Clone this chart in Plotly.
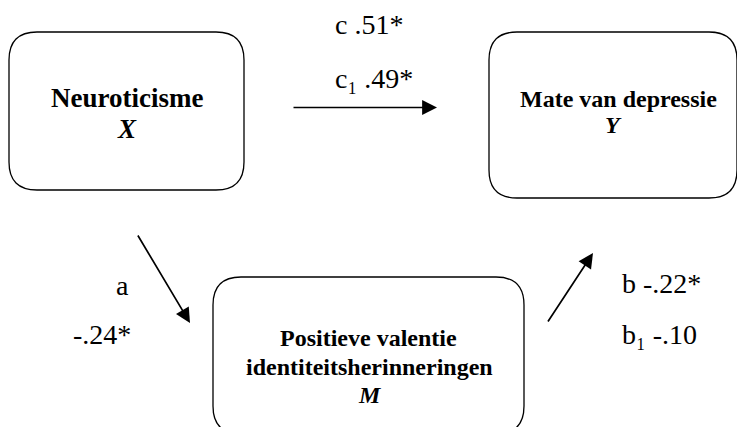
import plotly.graph_objects as go

# ---- content (data) ----
node_names = ["Neuroticisme", "Mate van depressie", "Positieve valentie<br>identiteitsherinneringen"]
node_symbols = ["X", "Y", "M"]
path_c = ["c .51*", "c₁ .49*"]
path_a = ["a", "-.24*"]
path_b = ["b -.22*", "b₁ -.10"]

# ---- layout geometry (pixel-like coordinates, y downwards) ----
W, H = 737, 427
boxes = [  # x0, y0, x1, y1, radius
    (9, 32, 244, 190, 28),
    (489, 32, 737, 198, 28),
    (213, 277, 524, 434, 28),
]

def rounded_path(x0, y0, x1, y1, r):
    return (f"M{x0+r},{y0} L{x1-r},{y0} Q{x1},{y0} {x1},{y0+r} "
            f"L{x1},{y1-r} Q{x1},{y1} {x1-r},{y1} "
            f"L{x0+r},{y1} Q{x0},{y1} {x0},{y1-r} "
            f"L{x0},{y0+r} Q{x0},{y0} {x0+r},{y0} Z")

fig = go.Figure()
fig.add_trace(go.Scatter(x=[0, W], y=[0, H], mode="markers",
                         marker=dict(opacity=0), hoverinfo="skip", showlegend=False))

for (x0, y0, x1, y1, r) in boxes:
    fig.add_shape(type="path", path=rounded_path(x0, y0, x1, y1, r),
                  xref="x", yref="y", line=dict(color="black", width=1.3),
                  fillcolor="rgba(0,0,0,0)")

SERIF = "Liberation Serif"
ann = []

def txt(x, y, s, size, xanchor="center", bold=False, italic=False):
    t = s
    if italic:
        t = f"<i>{t}</i>"
    if bold:
        t = f"<b>{t}</b>"
    ann.append(dict(x=x, y=y, xref="x", yref="y", text=t, showarrow=False,
                    xanchor=xanchor, yanchor="middle",
                    font=dict(family=SERIF, size=size, color="black")))

# node labels
txt(127, 98, node_names[0], 27, bold=True)
txt(127, 129, node_symbols[0], 27, bold=True, italic=True)
txt(618, 99, node_names[1], 24, bold=True)
txt(613, 125, node_symbols[1], 24, bold=True, italic=True)
m_lines = node_names[2].split("<br>")
txt(368, 338, m_lines[0], 24, bold=True)
txt(369, 367, m_lines[1], 24, bold=True)
txt(370, 395, node_symbols[2], 24, bold=True, italic=True)

# path coefficients
txt(333, 24, path_c[0], 28, xanchor="left")
txt(333, 78, path_c[1], 28, xanchor="left")
txt(122, 285, path_a[0], 28)
txt(102, 334, path_a[1], 28)
txt(620, 283, path_b[0], 28, xanchor="left")
txt(620, 334, path_b[1], 28, xanchor="left")

# arrows (tail -> tip)
arrows = [((292, 107.5), (437, 107.5)), ((137, 234), (190, 323)), ((547, 323), (593, 253))]
for (tx, ty), (hx, hy) in arrows:
    ann.append(dict(x=hx, y=hy, ax=tx, ay=ty, xref="x", yref="y", axref="x", ayref="y",
                    text="", showarrow=True, arrowhead=2, arrowsize=1.75, arrowwidth=1.7,
                    arrowcolor="black", standoff=0))

fig.update_layout(
    width=W, height=H, margin=dict(l=0, r=0, t=0, b=0),
    paper_bgcolor="white", plot_bgcolor="white",
    xaxis=dict(range=[0, W], visible=False, fixedrange=True),
    yaxis=dict(range=[H, 0], visible=False, fixedrange=True),
    annotations=ann, showlegend=False,
)
fig.write_html("out.html", config={"displayModeBar": False},
               post_script="document.body.style.margin='0';document.body.style.overflow='hidden';")
